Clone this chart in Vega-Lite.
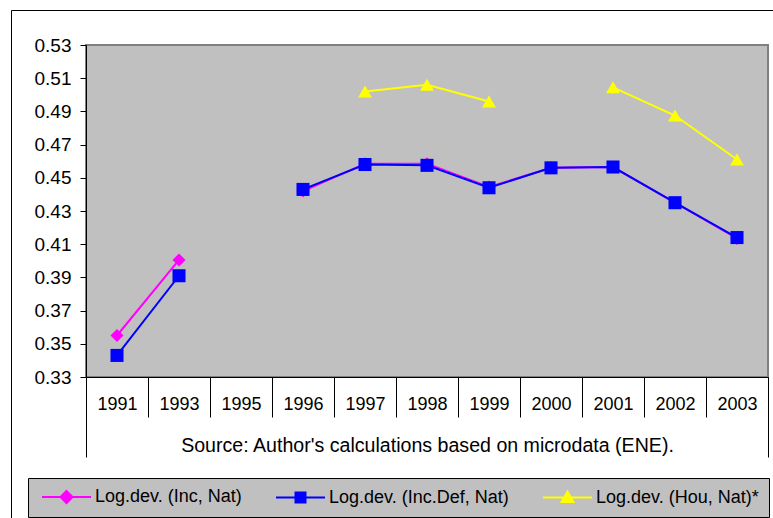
{
  "$schema": "https://vega.github.io/schema/vega-lite/v6.json",
  "autosize": {"type": "none"},
  "width": 682,
  "height": 332,
  "padding": {"left": 86, "top": 45, "right": 5, "bottom": 141},
  "background": "white",
  "config": {
    "font": "Liberation Sans",
    "view": {"fill": "#c0c0c0", "stroke": "#808080", "strokeWidth": 2},
    "axis": {"labelFont": "Liberation Sans", "titleFont": "Liberation Sans", "labelColor": "black", "titleColor": "black", "domainColor": "black", "tickColor": "black", "grid": false}
  },
  "data": {
    "values": [
      {"year": "1991", "series": "Log.dev. (Inc, Nat)", "value": 0.355},
      {"year": "1993", "series": "Log.dev. (Inc, Nat)", "value": 0.4005},
      {"year": "1995", "series": "Log.dev. (Inc, Nat)", "value": null},
      {"year": "1996", "series": "Log.dev. (Inc, Nat)", "value": 0.442},
      {"year": "1997", "series": "Log.dev. (Inc, Nat)", "value": 0.4585},
      {"year": "1998", "series": "Log.dev. (Inc, Nat)", "value": 0.4585},
      {"year": "1999", "series": "Log.dev. (Inc, Nat)", "value": 0.4445},
      {"year": "2000", "series": "Log.dev. (Inc, Nat)", "value": 0.456},
      {"year": "2001", "series": "Log.dev. (Inc, Nat)", "value": 0.4565},
      {"year": "2002", "series": "Log.dev. (Inc, Nat)", "value": 0.435},
      {"year": "2003", "series": "Log.dev. (Inc, Nat)", "value": 0.4135},
      {"year": "1991", "series": "Log.dev. (Inc.Def, Nat)", "value": 0.343},
      {"year": "1993", "series": "Log.dev. (Inc.Def, Nat)", "value": 0.391},
      {"year": "1995", "series": "Log.dev. (Inc.Def, Nat)", "value": null},
      {"year": "1996", "series": "Log.dev. (Inc.Def, Nat)", "value": 0.443},
      {"year": "1997", "series": "Log.dev. (Inc.Def, Nat)", "value": 0.458},
      {"year": "1998", "series": "Log.dev. (Inc.Def, Nat)", "value": 0.4575},
      {"year": "1999", "series": "Log.dev. (Inc.Def, Nat)", "value": 0.444},
      {"year": "2000", "series": "Log.dev. (Inc.Def, Nat)", "value": 0.456},
      {"year": "2001", "series": "Log.dev. (Inc.Def, Nat)", "value": 0.4565},
      {"year": "2002", "series": "Log.dev. (Inc.Def, Nat)", "value": 0.435},
      {"year": "2003", "series": "Log.dev. (Inc.Def, Nat)", "value": 0.414},
      {"year": "1997", "series": "Log.dev. (Hou, Nat)*", "value": 0.502},
      {"year": "1998", "series": "Log.dev. (Hou, Nat)*", "value": 0.506},
      {"year": "1999", "series": "Log.dev. (Hou, Nat)*", "value": 0.496},
      {"year": "2000", "series": "Log.dev. (Hou, Nat)*", "value": null},
      {"year": "2001", "series": "Log.dev. (Hou, Nat)*", "value": 0.5045},
      {"year": "2002", "series": "Log.dev. (Hou, Nat)*", "value": 0.4875},
      {"year": "2003", "series": "Log.dev. (Hou, Nat)*", "value": 0.461}
    ]
  },
  "encoding": {
    "x": {
      "field": "year", "type": "ordinal",
      "scale": {"type": "band", "domain": ["1991","1993","1995","1996","1997","1998","1999","2000","2001","2002","2003"], "paddingInner": 0, "paddingOuter": 0},
      "axis": null
    },
    "y": {
      "field": "value", "type": "quantitative",
      "scale": {"domain": [0.33, 0.53], "nice": false, "zero": false},
      "axis": null
    },
    "color": {
      "field": "series", "type": "nominal",
      "scale": {"domain": ["Log.dev. (Inc, Nat)", "Log.dev. (Inc.Def, Nat)", "Log.dev. (Hou, Nat)*"], "range": ["#ff00ff", "#0000ff", "#ffff00"]},
      "legend": {
        "title": null, "orient": "none", "legendX": -58, "legendY": 433, "direction": "horizontal", "columns": 3,
        "columnPadding": 30, "padding": 10, "fillColor": "#c0c0c0", "strokeColor": "#000000",
        "labelFont": "Liberation Sans", "labelFontSize": 18, "labelColor": "black", "labelLimit": 300,
        "symbolSize": 100, "labelOffset": 39,
        "encode": {"symbols": {"update": {
          "shape": {"signal": "datum.value === 'Log.dev. (Inc, Nat)' ? 'M-1,0H8.8M3.9,-1.2L5.1,0L3.9,1.2L2.7,0Z' : datum.value === 'Log.dev. (Inc.Def, Nat)' ? 'M-1,0H8.8M2.9,-1H4.9V1H2.9Z' : 'M-1,0H8.8M3.9,-1.2L5.1,0.9L2.7,0.9Z'"},
          "fill": {"scale": "color", "field": "value"},
          "stroke": {"scale": "color", "field": "value"},
          "strokeWidth": {"value": 2},
          "opacity": {"value": 1}
        }}}
      }
    }
  },
  "layer": [
    {
      "mark": {"type": "line", "strokeWidth": 2, "invalid": "break-paths-show-domains"},
      "encoding": {
        "x": {
          "field": "year", "type": "ordinal",
          "axis": {
            "orient": "bottom",
            "title": "Source: Author's calculations based on microdata (ENE).",
            "titleFontSize": 19.6, "titleFontWeight": "normal", "titleY": 68, "titleBaseline": "middle",
            "labelAngle": 0, "labelFontSize": 18, "labelBaseline": "middle", "labelPadding": -13,
            "tickBand": "extent", "tickSize": 40
          }
        },
        "y": {
          "field": "value", "type": "quantitative",
          "axis": {"orient": "left", "title": null, "values": [0.33,0.35,0.37,0.39,0.41,0.43,0.45,0.47,0.49,0.51,0.53], "format": ".2f", "labelFontSize": 19, "tickSize": 6, "labelPadding": 9}
        }
      }
    },
    {
      "transform": [{"filter": "datum.series === 'Log.dev. (Inc, Nat)'"}],
      "mark": {"type": "point", "shape": "diamond", "filled": true, "opacity": 1, "strokeWidth": 0, "size": 170},
      "encoding": {
        "x": {
          "field": "year", "type": "ordinal",
          "axis": {"orient": "top", "offset": 35, "title": null, "labels": false, "domain": true,
            "values": ["1991"], "bandPosition": 0, "tickOffset": -75, "tickSize": -520}
        },
        "y": {
          "field": "value", "type": "quantitative",
          "axis": {"orient": "left", "offset": 75, "title": null, "labels": false, "domain": false,
            "values": [0.53], "tickOffset": -35, "tickSize": -770}
        }
      }
    },
    {
      "transform": [{"filter": "datum.series === 'Log.dev. (Inc.Def, Nat)'"}],
      "mark": {"type": "point", "shape": "square", "filled": true, "opacity": 1, "strokeWidth": 0, "size": 170},
      "encoding": {
        "x": {
          "field": "year", "type": "ordinal",
          "axis": {"orient": "bottom", "title": null, "labels": false, "domain": false,
            "values": ["1991"], "bandPosition": 0, "tickSize": 80}
        }
      }
    },
    {
      "transform": [{"filter": "datum.series === 'Log.dev. (Hou, Nat)*'"}],
      "mark": {"type": "point", "shape": "triangle-up", "filled": true, "opacity": 1, "strokeWidth": 0, "size": 190},
      "encoding": {
        "x": {
          "field": "year", "type": "ordinal",
          "axis": {"orient": "bottom", "title": null, "labels": false, "domain": false,
            "values": ["2003"], "bandPosition": 1, "tickSize": 80}
        }
      }
    }
  ],
  "resolve": {"axis": {"x": "independent", "y": "independent"}}
}
